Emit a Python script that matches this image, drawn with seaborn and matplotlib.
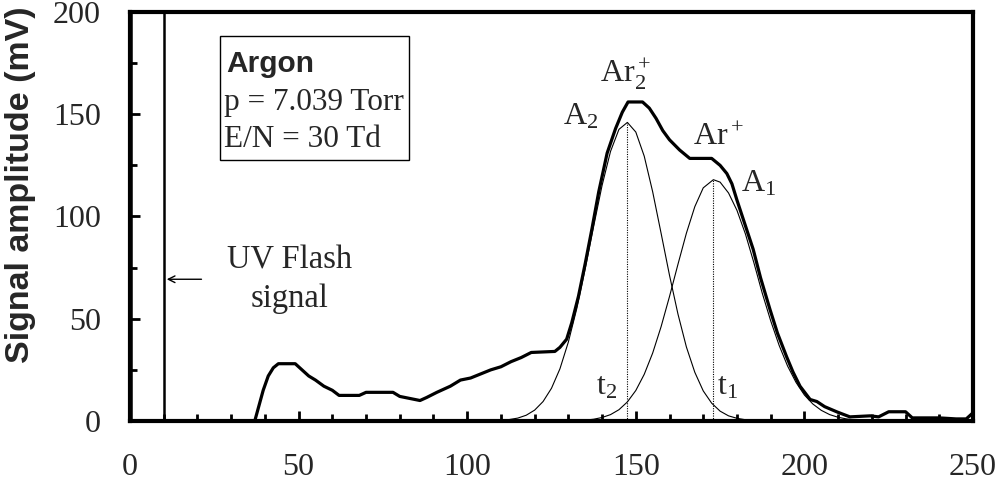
import matplotlib
matplotlib.use("Agg")
import matplotlib.pyplot as plt
import seaborn as sns
from matplotlib.ticker import MultipleLocator
from matplotlib.patches import Rectangle

# ---- data ----
# recorded trace (time axis, mV): trigger edge + UV flash spike
flash_x = [0.4, 0.4, 10.0, 10.0]
flash_y = [210, 0, 0, 210]

# recorded ion signal
signal_x = [37, 38, 39.5, 41, 42.5, 44, 49, 51, 53, 55, 57.5, 60, 62, 68, 70, 78, 80, 83, 86,
            88, 91, 95, 98, 101, 104, 107, 110, 113, 116, 119, 126, 127.5, 129.5, 131, 133,
            135, 137, 139, 141.5, 144, 146, 147.7, 152, 154, 156, 158, 160, 163, 166, 172.5,
            175, 177, 178.5, 180, 182, 184.8, 187, 189.8, 192, 194.7, 196.6, 198.7, 201.7,
            203.7, 206, 209.7, 213.5, 219.5, 222, 225, 230, 232, 240, 245, 248, 249, 250]
signal_y = [0, 6, 15, 22, 26, 28, 28, 25, 22, 20, 17, 15, 12.5, 12.5, 14, 14, 12, 11, 10,
            11.5, 14, 17, 20, 21, 23, 25, 26.5, 29, 31, 33.5, 34, 36, 40, 48, 61,
            77, 94, 112, 131, 143, 151, 156, 156, 153, 148, 142, 137.5, 132.5, 128.4, 128.4,
            125, 121, 116, 108, 98, 84, 70, 54.5, 43, 31.5, 24, 17, 10.5,
            9.5, 7, 4.4, 2, 2.5, 2, 4.5, 4.5, 1.5, 1.5, 1, 1, 2.5, 4]

# fitted component A2 (Ar2+)
a2_x = [110, 112.5, 115, 117.5, 120, 122.5, 125, 127.5, 130, 132.5, 135, 137.5, 140, 142.5,
        145, 147.5, 150, 152.5, 155, 157.5, 160, 162.5, 165, 167.5, 170, 172.5, 175, 177.5,
        180, 182.5]
a2_y = [0.3, 0.7, 1.4, 2.8, 5.3, 9.5, 16.0, 25.5, 38.6, 55.0, 74.5, 95.2, 115.2, 131.8,
        142.6, 146, 141.3, 129.5, 112.1, 91.8, 71.2, 52.3, 36.2, 23.8, 14.7, 8.7, 4.8, 2.5,
        1.3, 0.6]

# fitted component A1 (Ar+)
a1_x = [135, 137.5, 140, 142.5, 145, 147.5, 150, 152.5, 155, 157.5, 160, 162.5, 165, 167.5,
        170, 173, 175, 177.5, 180, 182.5, 185, 187.5, 190, 192.5, 195, 197.5, 200, 202.5,
        205, 207.5, 210, 212.5, 215]
a1_y = [0.4, 0.85, 1.7, 3.1, 5.5, 9.3, 14.9, 22.8, 33.2, 46.1, 60.9, 76.6, 91.8, 104.8,
        114, 118, 116.8, 111.5, 103, 91.5, 77.5, 62.5, 49, 37, 26.9, 18.9, 12.7, 8.3,
        5.2, 3.1, 1.8, 1.0, 0.5]

# peak times t2, t1 and peak heights
peak_t = [147.4, 173.0]
peak_h = [146, 118]

x_ticks = [0, 50, 100, 150, 200, 250]
y_ticks = [0, 50, 100, 150, 200]

# ---- styling ----
sns.set_theme(style="white")
plt.rcParams["font.family"] = ["Liberation Serif", "DejaVu Serif"]
plt.rcParams["mathtext.fontset"] = "custom"
plt.rcParams["mathtext.rm"] = "Liberation Serif"
plt.rcParams["mathtext.it"] = "Liberation Serif:italic"
plt.rcParams["mathtext.bf"] = "Liberation Serif:bold"

fig = plt.figure(figsize=(10, 4.8), dpi=100)
ax = fig.add_axes([0.13, 0.123, 0.843, 0.852])

sns.lineplot(x=flash_x, y=flash_y, sort=False, estimator=None, color="black",
             linewidth=1.8, ax=ax)
sns.lineplot(x=signal_x, y=signal_y, sort=False, estimator=None, color="black",
             linewidth=2.3, ax=ax)
sns.lineplot(x=a2_x, y=a2_y, sort=False, estimator=None, color="black",
             linewidth=0.8, ax=ax)
sns.lineplot(x=a1_x, y=a1_y, sort=False, estimator=None, color="black",
             linewidth=0.8, ax=ax)
for t, h in zip(peak_t, peak_h):
    ax.plot([t, t], [0, h], color="black", linestyle=(0, (1, 1.2)), linewidth=0.8)

ax.set_xlim(0, 250)
ax.set_ylim(0, 200)
ax.set_xticks(x_ticks)
ax.set_yticks(y_ticks)
ax.xaxis.set_minor_locator(MultipleLocator(10))
ax.yaxis.set_minor_locator(MultipleLocator(25))
ax.tick_params(axis="both", which="both", direction="in", color="black",
               bottom=True, left=True, top=False, right=False)
ax.tick_params(axis="both", which="major", length=7, width=2, labelsize=23)
ax.tick_params(axis="both", which="minor", length=5, width=2)
ax.tick_params(axis="x", which="major", pad=23)
ax.tick_params(axis="y", which="major", pad=21)
for s in ax.spines.values():
    s.set_linewidth(3)
    s.set_color("black")

ax.set_ylabel("")
ax.set_xlabel("")
fig.text(0.021, 0.615, "Signal amplitude (mV)", fontsize=24.5, fontweight="bold",
         family=["Liberation Sans", "DejaVu Sans"], rotation=90,
         ha="center", va="center")

# info box
ax.add_patch(Rectangle((0.1068, 0.638), 0.2242, 0.303, transform=ax.transAxes,
                       fill=False, edgecolor="black", linewidth=1.0))
ax.text(0.114, 0.854, "Argon", transform=ax.transAxes, fontsize=21.5, fontweight="bold",
        family=["Liberation Sans", "DejaVu Sans"], va="baseline", ha="left")
ax.text(0.112, 0.760, "p = 7.039 Torr", transform=ax.transAxes, fontsize=22.5,
        va="baseline", ha="left")
ax.text(0.112, 0.671, "E/N = 30 Td", transform=ax.transAxes, fontsize=22.5,
        va="baseline", ha="left")

# annotations
ax.text(146.8, 165.6, r"Ar$_2^+$", fontsize=23, ha="center", va="baseline")
ax.text(133.6, 145.2, r"A$_2$", fontsize=23, ha="center", va="baseline")
ax.text(174.4, 135.0, r"Ar$^+$", fontsize=23, ha="center", va="baseline")
ax.text(186.3, 112.0, r"A$_1$", fontsize=23, ha="center", va="baseline")
ax.text(141.4, 13.0, r"t$_2$", fontsize=23, ha="center", va="baseline")
ax.text(177.2, 13.0, r"t$_1$", fontsize=23, ha="center", va="baseline")
ax.text(47.2, 74.7, "UV Flash", fontsize=23.5, ha="center", va="baseline")
ax.text(47.4, 55.9, "signal", fontsize=23.5, ha="center", va="baseline")
ax.annotate("", xy=(10.9, 69.3), xytext=(21.2, 69.3),
            arrowprops=dict(arrowstyle="->", color="black", lw=1.0,
                            shrinkA=0, shrinkB=0))

fig.savefig("out.png", dpi=100)
